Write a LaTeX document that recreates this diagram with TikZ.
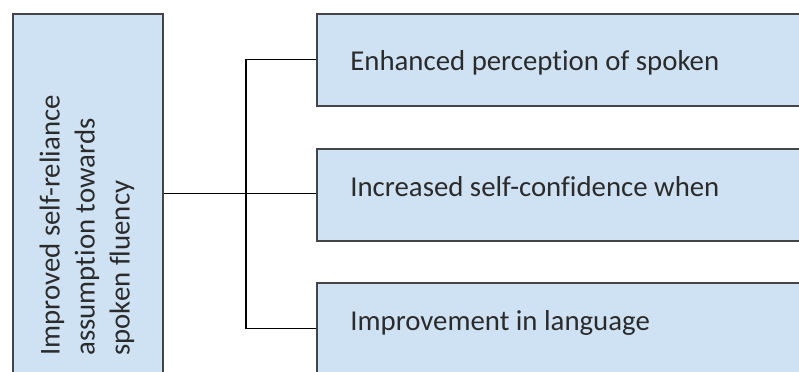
\documentclass[tikz,border=0pt]{standalone}
\usepackage{fontspec}
\setmainfont{Carlito}[Ligatures=NoCommon]
\usetikzlibrary{positioning,calc}
\definecolor{boxblue}{HTML}{CFE2F3}
\definecolor{boxline}{HTML}{454545}
\definecolor{txtgray}{HTML}{2B2B2B}

\begin{document}
\begin{tikzpicture}[x=0.02cm,y=-0.02cm,
  every node/.style={font=\fontsize{16.4}{19.9}\selectfont, text=txtgray},
  mainbox/.style={draw=boxline, fill=boxblue, line width=0.9pt, minimum width=3cm, minimum height=7.2cm, inner sep=0pt},
  outcome/.style={draw=boxline, fill=boxblue, line width=0.9pt, minimum height=1.84cm, minimum width=10.4cm, inner sep=0pt},
  boxtext/.style={anchor=base west, inner sep=0pt},
  link/.style={black, line width=0.6pt}]
\useasboundingbox (0,0) rectangle (799,372);
\clip (0,0) rectangle (799,372);
\node[mainbox, anchor=north west] (cause) at (12,13) {};
\node[rotate=90, align=left, anchor=west, inner sep=0pt] (causetxt) at (87,356) {Improved self-reliance\\assumption towards\\spoken fluency};
\node[outcome, anchor=north west] (perception) at (316,13) {};
\node[outcome, anchor=north west] (confidence) at (316,148) {};
\node[outcome, anchor=north west] (improvement) at (316,282) {};
\node[boxtext] (perceptiontxt) at ($(perception.north west)+(34,58)$) {Enhanced perception of spoken};
\node[boxtext] (confidencetxt) at ($(confidence.north west)+(34,48)$) {Increased self-confidence when};
\node[boxtext] (improvementtxt) at ($(improvement.north west)+(34,48)$) {Improvement in language};
\coordinate (bus) at (246,193);
\draw[link] (cause.east) -- (cause.east -| confidence.west);
\draw[link] (perception.west) -| (bus) |- (improvement.west);
\end{tikzpicture}
\end{document}
